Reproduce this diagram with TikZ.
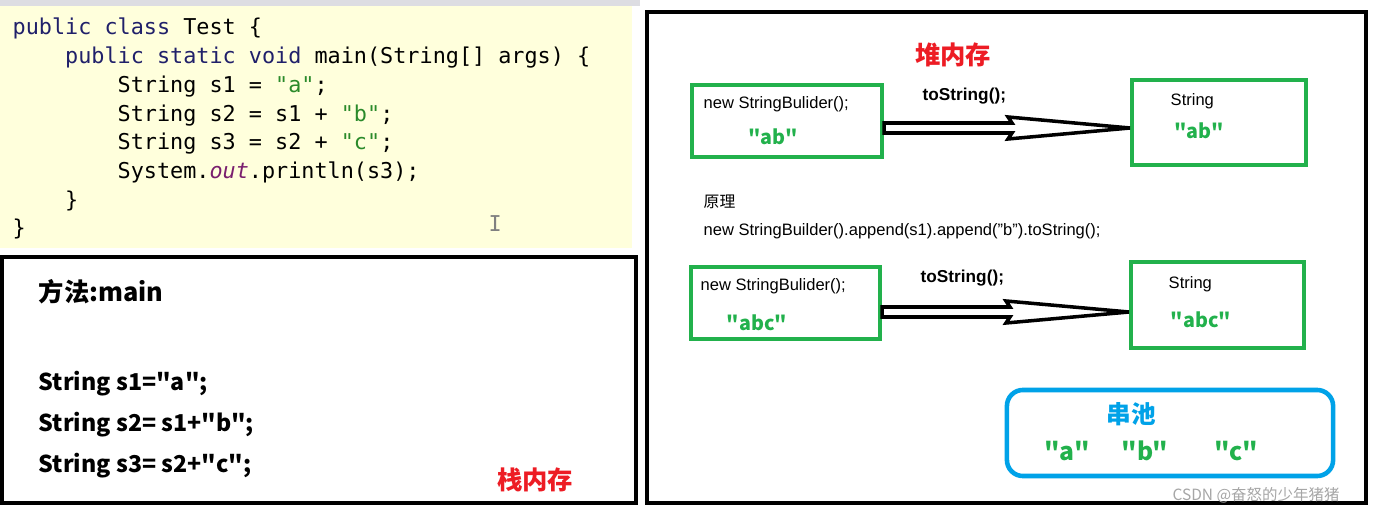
\documentclass[tikz,border=0pt]{standalone}
\usepackage{fontspec}
\setmainfont{Liberation Sans}
\setmonofont{DejaVu Sans Mono}
\newfontfamily\cjk{Noto Sans CJK SC}
\definecolor{kw}{HTML}{20206A}
\definecolor{strg}{HTML}{2A8A2A}
\definecolor{purp}{HTML}{7A1F6E}
\definecolor{gbox}{HTML}{22B14C}
\definecolor{rd}{HTML}{ED1C24}
\definecolor{bl}{HTML}{00A2E8}
\definecolor{codebg}{HTML}{FFFFDC}
\newcommand{\ind}[1]{\hspace*{#1\fontcharwd\font`0}}
\tikzset{
  code/.style={anchor=base west,inner sep=0pt,font=\ttfamily\fontsize{6.2}{7}\selectfont},
  big/.style={anchor=base west,inner sep=0pt,font=\cjk\bfseries\fontsize{6.6}{7}\selectfont},
  small/.style={anchor=base west,inner sep=0pt,font=\fontsize{4.7}{5}\selectfont},
  gtext/.style={inner sep=0pt,text=gbox,font=\cjk\bfseries\fontsize{5.6}{6}\selectfont},
  redt/.style={inner sep=0pt,text=rd,font=\cjk\bfseries\fontsize{7.2}{8}\selectfont},
  gb/.style={draw=gbox,line width=1.1pt,inner sep=0pt},
  hollow/.style={draw=black,fill=white,line width=1pt,line join=miter}
}
\begin{document}
\begin{tikzpicture}[x=0.01cm,y=-0.01cm]
\useasboundingbox (0,0) rectangle (1377,516);
\fill[white] (0,0) rectangle (1377,516);
\fill[blue!8!gray!25] (0,0) rectangle (640,6);
\fill[codebg] (0,6) rectangle (632,248);
\node[code] (c1) at (12,35) {\textcolor{kw}{public class} Test \{};
\node[code] (c2) at (12,64) {\ind{4}\textcolor{kw}{public static void} main(String[] args) \{};
\node[code] (c3) at (12,93) {\ind{8}String s1 = \textcolor{strg}{"a"};};
\node[code] (c4) at (12,122) {\ind{8}String s2 = s1 + \textcolor{strg}{"b"};};
\node[code] (c5) at (12,150) {\ind{8}String s3 = s2 + \textcolor{strg}{"c"};};
\node[code] (c6) at (12,179) {\ind{8}System.\textcolor{purp}{\itshape out}.println(s3);};
\node[code] (c7) at (12,208) {\ind{4}\}};
\node[code] (c8) at (12,236) {\}};
\node[code,text=gray] (cur) at (488,232) {I};
% stack box
\draw[line width=1.1pt] (2,257) rectangle (636,503);
\node[big,font=\cjk\bfseries\fontsize{7.2}{8}\selectfont] (m) at (38,302) {方法:main};
\node[big] (s1) at (38,391) {String s1="a";};
\node[big] (s2) at (38,432) {String s2= s1+"b";};
\node[big] (s3) at (38,472) {String s3= s2+"c";};
\node[redt] (stk) at (535,480) {栈内存};
% heap
\draw[line width=1.3pt] (647,12) rectangle (1366,503);
\node[redt] (heap) at (953,55) {堆内存};
\node[gb,minimum width=1.9cm,minimum height=0.72cm] (b1) at (787,121) {};
\node[small] (t1) at (703,109) {new StringBulider();};
\node[gtext] (v1) at (773,137) {"ab"};
\node[gb,minimum width=1.74cm,minimum height=0.85cm] (b2) at (1219,122.5) {};
\node[small] (t2) at (1170,106) {String};
\node[gtext] (v2) at (1199,131) {"ab"};
\node[anchor=base west,inner sep=0pt,font=\bfseries\fontsize{4.9}{5}\selectfont] (ts1) at (922,101) {toString();};
\draw[hollow] (b1.east |- 0,123) -- (1012,123) -- (1008,117) -- (b2.west |- 0,128) -- (1008,139) -- (1012,133) -- (b1.east |- 0,133) -- cycle;
\node[small,font=\cjk\fontsize{4.5}{5}\selectfont] (yl) at (703,208) {原理};
\node[small] (expl) at (703,236) {new StringBuilder().append(s1).append("b").toString();};
\node[gb,minimum width=1.89cm,minimum height=0.72cm] (b3) at (785.5,303) {};
\node[small] (t3) at (700,291) {new StringBulider();};
\node[gtext] (v3) at (757,323) {"abc"};
\node[gb,minimum width=1.73cm,minimum height=0.86cm] (b4) at (1217.5,305) {};
\node[small] (t4) at (1168,289) {String};
\node[gtext] (v4) at (1201,320) {"abc"};
\node[anchor=base west,inner sep=0pt,font=\bfseries\fontsize{4.9}{5}\selectfont] (ts2) at (920,283) {toString();};
\draw[hollow] (b3.east |- 0,307) -- (1010,307) -- (1006,301) -- (b4.west |- 0,312) -- (1006,323) -- (1010,317) -- (b3.east |- 0,317) -- cycle;
% pool
\node[draw=bl,line width=1.3pt,rounded corners=0.16cm,minimum width=3.26cm,minimum height=0.86cm,inner sep=0pt] (pool) at (1170,433) {};
\node[inner sep=0pt,text=bl,font=\cjk\bfseries\fontsize{7}{8}\selectfont] (pl) at (1131,414) {串池};
\node[gtext,font=\cjk\bfseries\fontsize{7}{8}\selectfont] (pa) at (1067,451) {"a"};
\node[gtext,font=\cjk\bfseries\fontsize{7}{8}\selectfont] (pb) at (1145,451) {"b"};
\node[gtext,font=\cjk\bfseries\fontsize{7}{8}\selectfont] (pc) at (1236,451) {"c"};
\node[inner sep=0pt,text=gray!70,font=\cjk\fontsize{4.4}{5}\selectfont] (wm) at (1256,495) {CSDN @奋怒的少年猪猪};
\end{tikzpicture}
\end{document}
